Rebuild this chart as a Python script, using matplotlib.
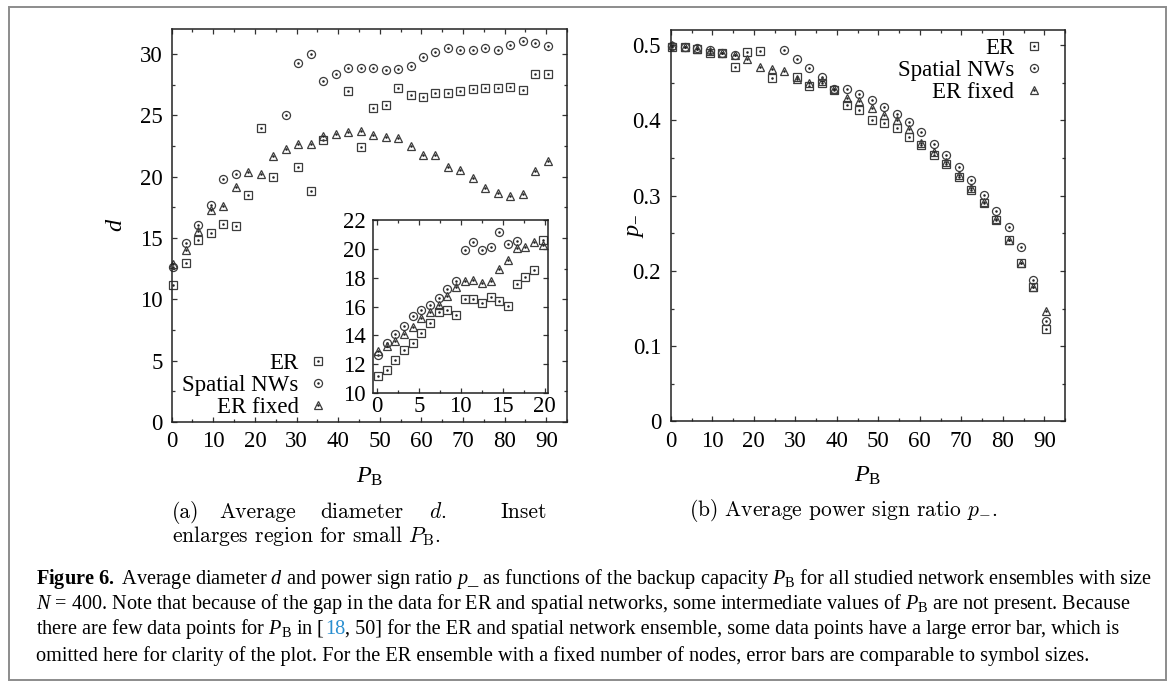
import numpy as np
import matplotlib
matplotlib.use('Agg')
import matplotlib.pyplot as plt
from matplotlib.ticker import MultipleLocator, FixedLocator, FixedFormatter
from matplotlib.offsetbox import TextArea, HPacker, AnchoredOffsetbox
from matplotlib.patches import Rectangle

plt.rcParams['font.family'] = 'Liberation Serif'
plt.rcParams['mathtext.fontset'] = 'custom'
plt.rcParams['mathtext.rm'] = 'Liberation Serif'
plt.rcParams['mathtext.it'] = 'Liberation Serif:italic'
plt.rcParams['mathtext.bf'] = 'Liberation Serif:bold'

nan = np.nan

# backup capacity values of the main panels (every third point)
pb_main = [0.4, 3.4, 6.4, 9.4, 12.4, 15.4, 18.4, 21.4, 24.4, 27.4, 30.4,
           33.4, 36.4, 39.4, 42.4, 45.4, 48.4, 51.4, 54.4, 57.4, 60.4,
           63.4, 66.4, 69.4, 72.4, 75.4, 78.4, 81.4, 84.4, 87.4, 90.4]

# average diameter d
d_er = [11.17, 12.94, 14.8, 15.45, 16.15, 16.0, 18.5, 24.0, 20.0, nan, 20.75,
        18.8, 23.0, nan, 27.0, 22.46, 25.64, 25.86, 27.2, 26.7, 26.5,
        26.8, 26.8, 27.0, 27.16, 27.2, 27.2, 27.35, 27.08, 28.36, 28.36]
d_spatial = [12.6, 14.57, 16.07, 17.7, 19.8, 20.2, nan, nan, nan, 25.0, 29.3,
             30.0, 27.8, 28.36, 28.85, 28.85, 28.85, 28.7, 28.8, 29.06, 29.74,
             30.2, 30.47, 30.34, 30.34, 30.47, 30.29, 30.7, 31.08, 30.94, 30.67]
d_fixed = [12.85, 14.0, 15.6, 17.3, 17.6, 19.2, 20.35, 20.2, 21.7, 22.27, 22.7,
           22.7, 23.3, 23.47, 23.63, 23.76, 23.4, 23.27, 23.14, 22.5, 21.8,
           21.75, 20.75, 20.55, 19.87, 19.06, 18.65, 18.46, 18.6, 20.47, 21.3]

# inset: small P_B
pb_inset = [0.1, 1.15, 2.2, 3.2, 4.25, 5.3, 6.35, 7.35, 8.4, 9.45,
            10.5, 11.5, 12.55, 13.6, 14.6, 15.65, 16.7, 17.7, 18.75, 19.8]
d_er_inset = [11.17, 11.63, 12.28, 12.96, 13.5, 14.15, 14.85, 15.6, 15.78, 15.43,
              16.53, 16.53, 16.22, 16.64, 16.41, 16.01, 17.53, 18.04, 18.55, 20.6]
d_spatial_inset = [12.61, 13.5, 14.08, 14.62, 15.31, 15.76, 16.1, 16.57, 17.23, 17.76,
                   19.95, 20.49, 19.9, 20.1, 21.19, 20.33, 20.54, nan, nan, nan]
d_fixed_inset = [12.91, 13.26, 13.6, 14.08, 14.55, 15.17, 15.64, 16.1, 16.76, 17.34,
                 17.74, 17.86, 17.65, 17.76, 18.58, 19.2, 20.07, 20.14, 20.49, 20.3]

# power sign ratio p_
p_er = [0.498, 0.497, 0.495, 0.489, 0.489, 0.471, 0.491, 0.492, 0.456, nan, 0.458,
        0.445, 0.450, 0.440, 0.421, 0.414, 0.4005, 0.396, 0.3895, 0.378, 0.367,
        0.354, 0.342, 0.325, 0.307, 0.290, 0.267, 0.241, 0.210, 0.178, 0.123]
p_spatial = [0.499, 0.498, 0.496, 0.493, 0.490, 0.487, nan, nan, nan, 0.494, 0.482,
             0.470, 0.457, 0.442, 0.441, 0.435, 0.427, 0.418, 0.408, 0.398, 0.384,
             0.369, 0.354, 0.338, 0.321, 0.301, 0.279, 0.258, 0.232, 0.188, 0.134]
p_fixed = [0.500, 0.498, 0.495, 0.492, 0.489, 0.487, 0.481, 0.471, 0.468, 0.466, 0.455,
           0.450, 0.452, 0.441, 0.430, 0.426, 0.417, 0.407, 0.401, 0.388, 0.3695,
           0.358, 0.344, 0.327, 0.3105, 0.291, 0.269, 0.241, 0.210, 0.178, 0.147]

labels = ['ER', 'Spatial NWs', 'ER fixed']
markers = ['s', 'o', '^']
p_ticks = [0, 0.1, 0.2, 0.3, 0.4, 0.5]
p_ticklabels = ['0', '0.1', '0.2', '0.3', '0.4', '0.5']

EDGE = '#3c3c3c'
FS = 16.5


def draw(ax, x, y, marker, ms=5.8):
    h1, = ax.plot(x, y, ls='none', marker=marker, ms=ms, mfc='none',
                  mec=EDGE, mew=0.9, clip_on=False)
    h2, = ax.plot(x, y, ls='none', marker='.', ms=1.6, color='#222222', clip_on=False)
    return (h1, h2)


def style(ax, pad=6.5):
    for s in ax.spines.values():
        s.set_linewidth(1.1)
        s.set_color('#222222')
    ax.tick_params(which='both', direction='in', top=True, right=True,
                   width=0.9, color='#333333', labelsize=FS, pad=pad)
    ax.tick_params(which='major', length=3.4)
    ax.tick_params(which='minor', length=2.0)


fig = plt.figure(figsize=(11.71, 6.86), dpi=100)

# ---- panel (a)
ax1 = fig.add_axes([0.1466, 0.3848, 0.3376, 0.5722])
handles = []
for y, m in zip([d_er, d_spatial, d_fixed], markers):
    handles.append(draw(ax1, pb_main, y, m))
ax1.set_xlim(0, 95)
ax1.set_ylim(0, 32)
ax1.xaxis.set_major_locator(MultipleLocator(10))
ax1.xaxis.set_minor_locator(MultipleLocator(5))
ax1.yaxis.set_major_locator(MultipleLocator(5))
ax1.yaxis.set_minor_locator(MultipleLocator(2.5))
style(ax1)
ax1.set_xlabel(r'$P_{\rm B}$', fontsize=17.5, va='center')
ax1.xaxis.set_label_coords(0.5, -0.14)
ax1.set_ylabel(r'$d$', fontsize=17.5, va='center')
ax1.yaxis.set_label_coords(-0.139, 0.502)
ax1.legend(handles, labels, loc='lower right', bbox_to_anchor=(0.397, 0.01),
           markerfirst=False, frameon=False, fontsize=FS, handlelength=0.9,
           handletextpad=0.4, labelspacing=0.05, borderpad=0, borderaxespad=0)

# inset
axi = fig.add_axes([0.3183, 0.4271, 0.1497, 0.2522])
for y, m in zip([d_er_inset, d_spatial_inset, d_fixed_inset], markers):
    draw(axi, pb_inset, y, m)
axi.set_xlim(-0.5, 20.4)
axi.set_ylim(10, 22)
axi.xaxis.set_major_locator(MultipleLocator(5))
axi.xaxis.set_minor_locator(MultipleLocator(2.5))
axi.yaxis.set_major_locator(MultipleLocator(2))
style(axi, pad=5)
axi.tick_params(axis='x', pad=2)

# ---- panel (b)
ax2 = fig.add_axes([0.5728, 0.3856, 0.3367, 0.5707])
handles = []
for y, m in zip([p_er, p_spatial, p_fixed], markers):
    handles.append(draw(ax2, pb_main, y, m))
ax2.set_xlim(0, 95)
ax2.set_ylim(0, 0.52)
ax2.xaxis.set_major_locator(MultipleLocator(10))
ax2.xaxis.set_minor_locator(MultipleLocator(5))
ax2.yaxis.set_major_locator(FixedLocator(p_ticks))
ax2.yaxis.set_major_formatter(FixedFormatter(p_ticklabels))
ax2.yaxis.set_minor_locator(MultipleLocator(0.05))
style(ax2, pad=7)
ax2.set_xlabel(r'$P_{\rm B}$', fontsize=17.5, va='center')
ax2.xaxis.set_label_coords(0.5, -0.14)
ax2.set_ylabel(r'$p_{-}$', fontsize=17.5, va='center')
ax2.yaxis.set_label_coords(-0.09, 0.50)
ax2.legend(handles, labels, loc='upper right', bbox_to_anchor=(0.947, 0.98),
           markerfirst=False, frameon=False, fontsize=FS, handlelength=0.9,
           handletextpad=0.4, labelspacing=0.05, borderpad=0, borderaxespad=0)

# ---- sub captions (LaTeX style)
W, H = 1171.0, 686.0
cm = dict(fontfamily='cmr10', math_fontfamily='cm', fontsize=15.5, va='center')
fig.text(172 / W, 1 - 512 / H, '(a)', ha='left', **cm)
fig.text(219 / W, 1 - 512 / H, 'Average', ha='left', **cm)
fig.text(320 / W, 1 - 512 / H, 'diameter', ha='left', **cm)
fig.text(429 / W, 1 - 512 / H, '$d$.', ha='left', **cm)
fig.text(547 / W, 1 - 512 / H, 'Inset', ha='right', **cm)
fig.text(172 / W, 1 - 536 / H, r'enlarges region for small $P_{\rm B}$.', ha='left', **cm)
fig.text(689 / W, 1 - 510 / H, r'(b) Average power sign ratio $p_{-}$.', ha='left', **cm)

# ---- figure caption
cfs = 14.6
cx = 36 / W
fig.text(cx, 1 - 591 / H,
         r'$\mathbf{Figure\ 6.}$ Average diameter $d$ and power sign ratio $p$_ as functions '
         r'of the backup capacity $P_{\rm B}$ for all studied network ensembles with size',
         fontsize=cfs, va='bottom', ha='left')
fig.text(cx, 1 - 616 / H,
         r'$N$ = 400. Note that because of the gap in the data for ER and spatial networks, '
         r'some intermediate values of $P_{\rm B}$ are not present. Because',
         fontsize=cfs, va='bottom', ha='left')
line3 = HPacker(children=[
    TextArea(r'there are few data points for $P_{\rm B}$ in [', textprops=dict(fontsize=cfs)),
    TextArea('18', textprops=dict(fontsize=cfs, color='#2a8fd0')),
    TextArea(', 50] for the ER and spatial network ensemble, some data points have a '
             'large error bar, which is', textprops=dict(fontsize=cfs)),
], align='baseline', pad=0, sep=0)
fig.add_artist(AnchoredOffsetbox(loc='lower left', child=line3, pad=0, borderpad=0,
                                 frameon=False, bbox_to_anchor=(cx, 1 - 641 / H),
                                 bbox_transform=fig.transFigure))
fig.text(cx, 1 - 666 / H,
         'omitted here for clarity of the plot. For the ER ensemble with a fixed number '
         'of nodes, error bars are comparable to symbol sizes.',
         fontsize=cfs, va='bottom', ha='left')

# outer frame
fig.add_artist(Rectangle((9 / W, 1 - 680 / H), (1166 - 9) / W, (680 - 7) / H,
                         transform=fig.transFigure, fill=False, ec='#8c8c8c', lw=1.4))

fig.savefig('out.png', dpi=100)
